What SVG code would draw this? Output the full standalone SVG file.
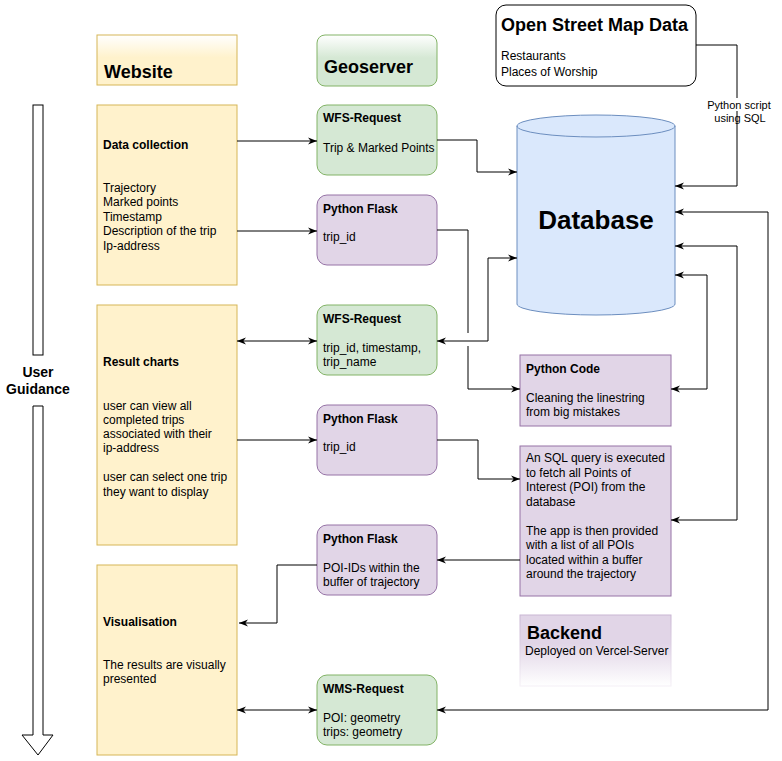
<svg xmlns="http://www.w3.org/2000/svg" width="782" height="761" viewBox="0 0 782 761">
<style>
text{font-family:"Liberation Sans",Arial,sans-serif;font-size:12px;fill:#000}
.b{font-weight:bold}
.h{font-weight:bold;font-size:18px}
.y{fill:#fff2cc;stroke:#d6b656;stroke-width:1}
.g{fill:#d5e8d4;stroke:#82b366;stroke-width:1}
.p{fill:#e1d5e7;stroke:#9673a6;stroke-width:1}
.c{fill:none;stroke:#000;stroke-width:1}
.s{font-size:11px}
</style>
<defs>
<marker id="ah" viewBox="0 0 10 10" refX="10" refY="5" markerWidth="9" markerHeight="9" markerUnits="userSpaceOnUse" orient="auto-start-reverse">
<path d="M0,1 L10,5 L0,9 L3,5 Z" fill="#000"/>
</marker>
<linearGradient id="gy" x1="0" y1="0" x2="0" y2="1">
<stop offset="0" stop-color="#ffffff"/>
<stop offset="0.45" stop-color="#fff2cc"/>
<stop offset="1" stop-color="#fff2cc"/>
</linearGradient>
<linearGradient id="gg" x1="0" y1="0" x2="0" y2="1">
<stop offset="0" stop-color="#ffffff"/>
<stop offset="0.45" stop-color="#d5e8d4"/>
<stop offset="1" stop-color="#d5e8d4"/>
</linearGradient>
<linearGradient id="gp" x1="0" y1="0" x2="0" y2="1">
<stop offset="0" stop-color="#e1d5e7"/>
<stop offset="0.4" stop-color="#e1d5e7"/>
<stop offset="1" stop-color="#ffffff"/>
</linearGradient>
<linearGradient id="gps" x1="0" y1="0" x2="0" y2="1">
<stop offset="0" stop-color="#c9b6d3"/>
<stop offset="1" stop-color="#f4eff6"/>
</linearGradient>
</defs>
<rect width="782" height="761" fill="#fff"/>

<g id="user-guidance">
<rect x="33" y="105" width="10" height="250" fill="#fff" stroke="#000"/>
<path d="M33,406 H43 V735 H53 L38,755 L22,735 H33 Z" fill="#fff" stroke="#000"/>
<text class="b" x="38" y="377" text-anchor="middle" style="font-size:14px">User</text>
<text class="b" x="38" y="394" text-anchor="middle" style="font-size:14px">Guidance</text>
</g>

<g id="website-header">
<rect x="97" y="35" width="140" height="50" fill="url(#gy)" stroke="#d6b656"/>
<text class="h" x="104" y="78">Website</text>
</g>
<g id="geoserver-header">
<rect x="317" y="35" width="120" height="51" rx="8" fill="url(#gg)" stroke="#82b366"/>
<text class="h" x="324" y="73">Geoserver</text>
</g>

<g id="data-collection">
<rect class="y" x="97" y="105" width="140" height="180"/>
<text class="b" x="103" y="149">Data collection</text>
<text x="103" y="192">Trajectory</text>
<text x="103" y="206">Marked points</text>
<text x="103" y="221">Timestamp</text>
<text x="103" y="235">Description of the trip</text>
<text x="103" y="250">Ip-address</text>
</g>
<g id="result-charts">
<rect class="y" x="97" y="305" width="140" height="240"/>
<text class="b" x="103" y="366">Result charts</text>
<text x="103" y="410">user can view all</text>
<text x="103" y="424">completed trips</text>
<text x="103" y="438">associated with their</text>
<text x="103" y="452">ip-address</text>
<text x="103" y="481">user can select one trip</text>
<text x="103" y="496">they want to display</text>
</g>
<g id="visualisation">
<rect class="y" x="97" y="565" width="140" height="190"/>
<text class="b" x="103" y="626">Visualisation</text>
<text x="103" y="669">The results are visually</text>
<text x="103" y="683">presented</text>
</g>

<g id="wfs-request-1">
<rect class="g" x="317" y="105" width="120" height="70" rx="10"/>
<text class="b" x="323" y="122">WFS-Request</text>
<text x="323" y="152">Trip &amp; Marked Points</text>
</g>
<g id="python-flask-1">
<rect class="p" x="317" y="195" width="120" height="70" rx="10"/>
<text class="b" x="323" y="213">Python Flask</text>
<text x="323" y="241">trip_id</text>
</g>
<g id="wfs-request-2">
<rect class="g" x="317" y="305" width="120" height="70" rx="10"/>
<text class="b" x="323" y="323">WFS-Request</text>
<text x="323" y="352">trip_id, timestamp,</text>
<text x="323" y="366">trip_name</text>
</g>
<g id="python-flask-2">
<rect class="p" x="317" y="405" width="120" height="70" rx="10"/>
<text class="b" x="323" y="423">Python Flask</text>
<text x="323" y="451">trip_id</text>
</g>
<g id="python-flask-3">
<rect class="p" x="317" y="525" width="120" height="70" rx="10"/>
<text class="b" x="323" y="543">Python Flask</text>
<text x="323" y="572">POI-IDs within the</text>
<text x="323" y="586">buffer of trajectory</text>
</g>
<g id="wms-request">
<rect class="g" x="317" y="675" width="120" height="70" rx="10"/>
<text class="b" x="323" y="693">WMS-Request</text>
<text x="323" y="722">POI: geometry</text>
<text x="323" y="736">trips: geometry</text>
</g>

<g id="osm-data">
<rect x="496" y="5" width="200" height="81" rx="10" fill="#fff" stroke="#000"/>
<text class="h" x="501" y="31">Open Street Map Data</text>
<text x="501" y="60">Restaurants</text>
<text x="501" y="76">Places of Worship</text>
</g>

<g id="database">
<path d="M517,126 A79,11 0 0 1 675,126 V304 A79,11 0 0 1 517,304 Z" fill="#dae8fc" stroke="#6c8ebf"/>
<path d="M517,126 A79,11 0 0 0 675,126" fill="none" stroke="#6c8ebf"/>
<text class="b" x="596" y="229" text-anchor="middle" style="font-size:26px">Database</text>
</g>

<g id="python-code">
<rect class="p" x="520" y="355" width="151" height="71"/>
<text class="b" x="526" y="373">Python Code</text>
<text x="526" y="402">Cleaning the linestring</text>
<text x="526" y="416">from big mistakes</text>
</g>
<g id="sql-query">
<rect class="p" x="520" y="446" width="151" height="150"/>
<text x="526" y="462">An SQL query is executed</text>
<text x="526" y="477">to fetch all Points of</text>
<text x="526" y="491">Interest (POI) from the</text>
<text x="526" y="506">database</text>
<text x="526" y="535">The app is then provided</text>
<text x="526" y="549">with a list of all POIs</text>
<text x="526" y="564">located within a buffer</text>
<text x="526" y="578">around the trajectory</text>
</g>
<g id="backend">
<rect x="520" y="615" width="151" height="71" fill="url(#gp)" stroke="url(#gps)"/>
<text class="h" x="527" y="639">Backend</text>
<text x="525" y="655">Deployed on Vercel-Server</text>
</g>

<g id="connectors">
<path class="c" d="M237,141 H317" marker-end="url(#ah)"/>
<path class="c" d="M237,231 H317" marker-end="url(#ah)"/>
<path class="c" d="M437,140 H477 V172 H517" marker-end="url(#ah)"/>
<path class="c" d="M696,45 H737 V186 H675" marker-end="url(#ah)"/>
<path class="c" d="M437,230 H468 V333 M468,346 V389 H520" marker-end="url(#ah)"/>
<path class="c" d="M517,258 H488 V341 H437" marker-start="url(#ah)" marker-end="url(#ah)"/>
<path class="c" d="M675,275 H707 V389 H671" marker-start="url(#ah)" marker-end="url(#ah)"/>
<path class="c" d="M437,440 H478 V479 H520" marker-end="url(#ah)"/>
<path class="c" d="M675,246 H737 V520 H671" marker-start="url(#ah)" marker-end="url(#ah)"/>
<path class="c" d="M520,560 H437" marker-end="url(#ah)"/>
<path class="c" d="M317,565 H277 V623 H239" marker-end="url(#ah)"/>
<path class="c" d="M675,212 H768 V710 H437" marker-start="url(#ah)" marker-end="url(#ah)"/>
<path class="c" d="M237,341 H317" marker-start="url(#ah)" marker-end="url(#ah)"/>
<path class="c" d="M237,440 H317" marker-end="url(#ah)"/>
<path class="c" d="M237,710 H317" marker-start="url(#ah)" marker-end="url(#ah)"/>
<rect x="705" y="98" width="68" height="13" fill="#fff"/>
<text class="s" x="739" y="109" text-anchor="middle">Python script</text>
<text class="s" x="740" y="122" text-anchor="middle">using SQL</text>
</g>
</svg>
